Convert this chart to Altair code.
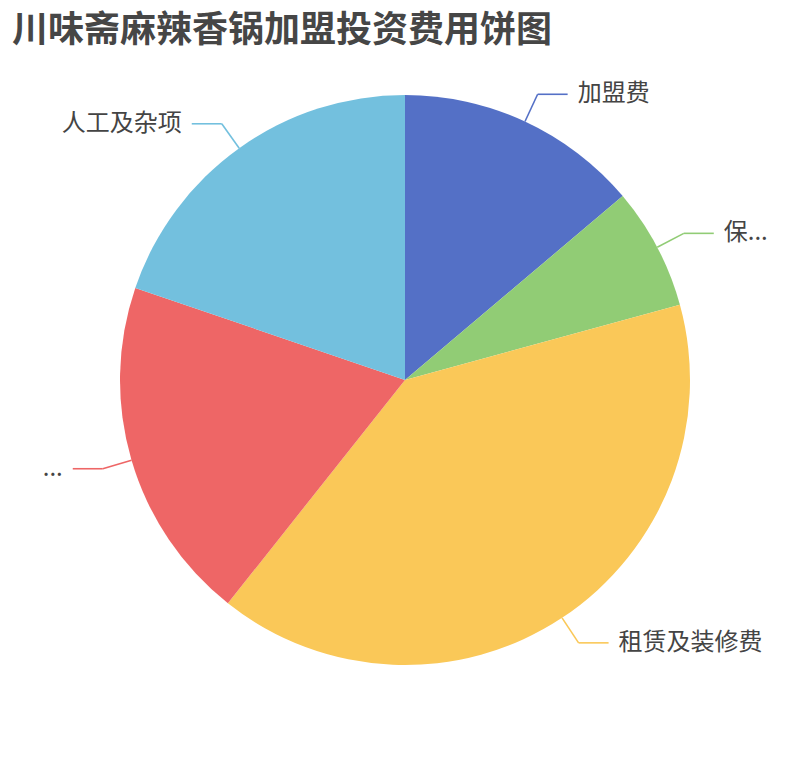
import altair as alt
import pandas as pd

# ---- data ----
categories = ["加盟费", "保...", "租赁及装修费", "...", "人工及杂项"]
values = [7, 3.5, 20.2, 9.9, 10]
colors = ["#5470c6", "#91cc75", "#fac858", "#ee6666", "#73c0de"]
title_text = "川味斋麻辣香锅加盟投资费用饼图"

df = pd.DataFrame({"category": categories, "value": values,
                   "idx": list(range(len(categories)))})

# ---- layout constants ----
W, H = 794, 624
CX, CY, R = W / 2, H / 2, 285
R_OUT = 315   # end of radial leader segment
SEG = 30      # horizontal leader segment
GAP = 10      # gap between leader and text
FONT = "Noto Sans CJK SC"

color = alt.Color("category:N", scale=alt.Scale(domain=categories, range=colors), legend=None)

base = alt.Chart(df)

pie = base.mark_arc(outerRadius=R).encode(
    theta=alt.Theta("value:Q", stack=True),
    color=color,
    order=alt.Order("idx:Q"),
)

geo = base.transform_joinaggregate(
    total="sum(value)"
).transform_window(
    cum="sum(value)", sort=[alt.SortField("idx")], frame=[None, 0]
).transform_calculate(
    mid="(datum.cum - datum.value / 2) / datum.total * 2 * PI",
).transform_calculate(
    x0=f"{CX} + {R} * sin(datum.mid)",
    y0=f"{CY} - {R} * cos(datum.mid)",
    x1=f"{CX} + {R_OUT} * sin(datum.mid)",
    y1=f"{CY} - {R_OUT} * cos(datum.mid)",
    side="sin(datum.mid) >= 0 ? 1 : -1",
).transform_calculate(
    x2=f"datum.x1 + datum.side * {SEG}",
    xt=f"datum.x1 + datum.side * {SEG + GAP}",
)

seg1 = geo.mark_rule(strokeWidth=1.6).encode(
    x=alt.X("x0:Q", scale=None, axis=None),
    y=alt.Y("y0:Q", scale=None, axis=None),
    x2="x1:Q", y2="y1:Q",
    color=color,
)
seg2 = geo.mark_rule(strokeWidth=1.6).encode(
    x=alt.X("x1:Q", scale=None, axis=None),
    y=alt.Y("y1:Q", scale=None, axis=None),
    x2="x2:Q", y2="y1:Q",
    color=color,
)
txt_r = geo.transform_filter("datum.side > 0").mark_text(
    align="left", baseline="middle", fontSize=24, font=FONT, color="#444444"
).encode(
    x=alt.X("xt:Q", scale=None, axis=None),
    y=alt.Y("y1:Q", scale=None, axis=None),
    text="category:N",
)
txt_l = geo.transform_filter("datum.side < 0").mark_text(
    align="right", baseline="middle", fontSize=24, font=FONT, color="#444444"
).encode(
    x=alt.X("xt:Q", scale=None, axis=None),
    y=alt.Y("y1:Q", scale=None, axis=None),
    text="category:N",
)

chart = alt.layer(pie, seg1, seg2, txt_r, txt_l).properties(
    width=W, height=H,
    title=alt.TitleParams(title_text, anchor="start", fontSize=36, fontWeight="bold",
                          color="#464646", font=FONT, offset=18, dx=4),
    autosize=alt.AutoSizeParams(type="none"),
    padding={"left": 0, "top": 60, "right": 0, "bottom": 0},
).configure_view(stroke=None)

chart.save("out.html", embed_options={"renderer": "svg", "actions": False})
